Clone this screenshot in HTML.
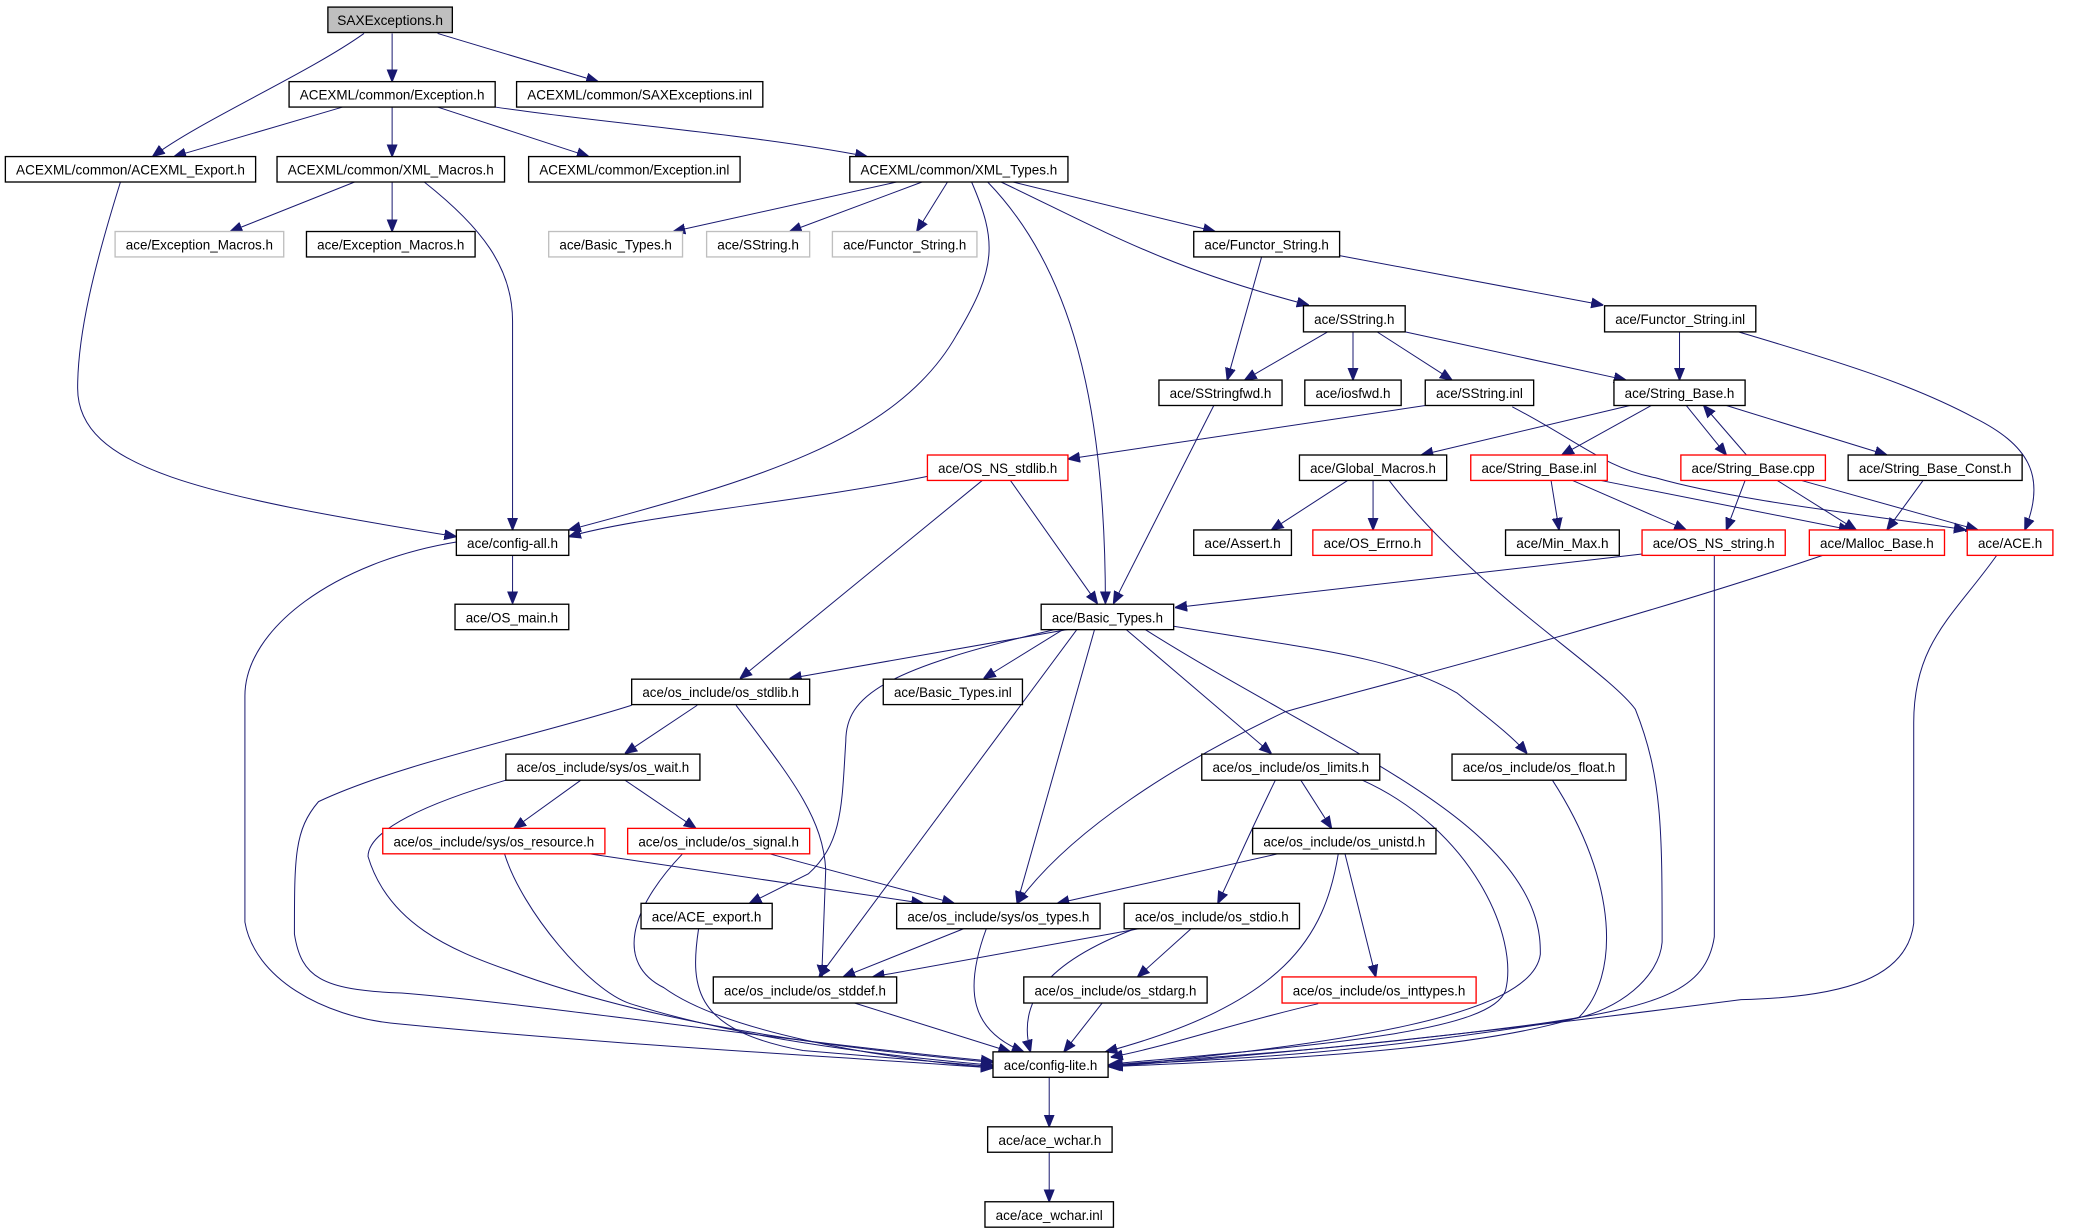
<!DOCTYPE html>
<html><head><meta charset="utf-8"><style>
html,body{margin:0;padding:0;background:#fff;}
svg{display:block;}
text{font-family:"Liberation Sans",sans-serif;font-size:10px;fill:#000;}
.n{fill:#fff;stroke:#000;stroke-width:1;}
.r{fill:#fff;stroke:#ff0000;stroke-width:1;}
.g{fill:#fff;stroke:#bfbfbf;stroke-width:1;}
.e{fill:none;stroke:#191970;stroke-width:0.75;marker-end:url(#a);}
</style></head><body>
<svg width="2077" height="1232" viewBox="0 0 1552 920.6" xmlns="http://www.w3.org/2000/svg">
<defs><marker id="a" viewBox="0 0 10 10" refX="10" refY="5" markerWidth="9" markerHeight="9" markerUnits="userSpaceOnUse" orient="auto"><path d="M0,1 L10,5 L0,9 z" fill="#191970" stroke="#191970"/></marker></defs>
<g>
<path class="e" d="M272,25 C230,55 150,90 114,117"/>
<path class="e" d="M293,25 L293,61"/>
<path class="e" d="M327,25 L447,61"/>
<path class="e" d="M256,80 L130,117"/>
<path class="e" d="M293,80 L293,117"/>
<path class="e" d="M327,80 L440,117"/>
<path class="e" d="M370,80 C450,92 560,100 648,117"/>
<path class="e" d="M265,136 L172,173"/>
<path class="e" d="M293,136 L293,173"/>
<path class="e" d="M317,136 C360,170 383,200 383,240 L383,396"/>
<path class="e" d="M90,136 C70,200 58,250 58,290 C58,350 150,370 341,401"/>
<path class="e" d="M670,136 L503,173"/>
<path class="e" d="M689,136 L590,173"/>
<path class="e" d="M708,136 L685,173"/>
<path class="e" d="M726,136 C745,180 745,200 715,250 C670,330 560,360 425,396"/>
<path class="e" d="M738,136 C800,200 826,300 826,451"/>
<path class="e" d="M757,136 L908,173"/>
<path class="e" d="M748,136 C820,170 870,200 978,228"/>
<path class="e" d="M943,191 L917,284"/>
<path class="e" d="M1001,191 L1198,228"/>
<path class="e" d="M992,248 L930,284"/>
<path class="e" d="M1011,248 L1011,284"/>
<path class="e" d="M1029,248 L1085,284"/>
<path class="e" d="M1050,248 L1215,284"/>
<path class="e" d="M1255,248 L1255,284"/>
<path class="e" d="M1299,248 C1380,272 1430,288 1475,312 C1515,332 1530,355 1513,396"/>
<path class="e" d="M907,303 L832,451"/>
<path class="e" d="M1065,303 L798,343"/>
<path class="e" d="M1130,304 C1180,330 1200,350 1237,357 C1300,375 1400,385 1469,396"/>
<path class="e" d="M1218,303 L1062,340"/>
<path class="e" d="M1234,303 L1167,340"/>
<path class="e" d="M1260,303 L1290,340"/>
<path class="e" d="M1305,340 L1273,303"/>
<path class="e" d="M1290,303 L1410,340"/>
<path class="e" d="M693,356 C600,375 480,385 425,401"/>
<path class="e" d="M734,359 L553,507"/>
<path class="e" d="M755,359 L820,451"/>
<path class="e" d="M1007,359 L950,396"/>
<path class="e" d="M1026,359 L1026,396"/>
<path class="e" d="M1038,359 C1100,440 1200,500 1222,530 C1242,580 1242,620 1242,704 C1240,730 1210,755 1173,762 C1000,790 900,792 828,796"/>
<path class="e" d="M1159,359 L1165,396"/>
<path class="e" d="M1175,359 L1260,396"/>
<path class="e" d="M1196,359 L1383,396"/>
<path class="e" d="M1304,359 L1290,396"/>
<path class="e" d="M1328,359 L1387,396"/>
<path class="e" d="M1346,359 L1478,396"/>
<path class="e" d="M1437,359 L1410,396"/>
<path class="e" d="M1227,414 L878,454"/>
<path class="e" d="M1281,415 L1281,700 C1275,740 1240,752 1150,765 C1000,785 900,790 828,796"/>
<path class="e" d="M1362,415 C1200,470 1000,520 960,532 C880,570 800,620 760,675"/>
<path class="e" d="M1492,415 C1460,460 1430,480 1430,540 L1430,690 C1425,730 1380,745 1301,747 C1200,760 1000,785 828,797"/>
<path class="e" d="M383,415 L383,451"/>
<path class="e" d="M341,405 C250,420 183,470 183,520 L183,689 C190,730 240,760 297,765 C450,780 600,788 742,798"/>
<path class="e" d="M800,470 L590,507"/>
<path class="e" d="M795,470 L735,507"/>
<path class="e" d="M790,470 C660,500 632,520 632,554 C629,600 630,630 604,653 L560,675"/>
<path class="e" d="M805,470 L612,730"/>
<path class="e" d="M818,470 L760,675"/>
<path class="e" d="M841,470 L950,563"/>
<path class="e" d="M855,470 C950,530 1060,580 1110,630 C1151,670 1151,700 1151,713 C1145,760 1000,780 828,797"/>
<path class="e" d="M877,468 C980,485 1040,490 1089,518 C1110,535 1130,550 1141,563"/>
<path class="e" d="M472,527 C400,550 300,570 238,599 C220,620 220,640 220,698 C225,730 240,740 300,742 C400,750 600,780 742,793"/>
<path class="e" d="M521,527 L467,563"/>
<path class="e" d="M550,527 C590,580 615,610 617,650 L614,730"/>
<path class="e" d="M434,583 L384,619"/>
<path class="e" d="M467,583 L520,619"/>
<path class="e" d="M378,583 C320,600 275,620 275,640 C290,690 337,710 380,725 C500,770 650,785 742,794"/>
<path class="e" d="M440,638 L690,675"/>
<path class="e" d="M377,638 C390,680 440,740 471,750 C550,775 650,788 742,796"/>
<path class="e" d="M575,638 L713,675"/>
<path class="e" d="M510,638 C470,680 460,720 496,738 C540,770 650,790 742,798"/>
<path class="e" d="M522,694 C515,740 520,770 600,785 L742,797"/>
<path class="e" d="M720,694 L630,730"/>
<path class="e" d="M737,694 C720,740 725,770 765,786"/>
<path class="e" d="M637,749 L755,786"/>
<path class="e" d="M851,694 L652,730"/>
<path class="e" d="M848,694 C780,720 760,750 770,786"/>
<path class="e" d="M890,694 L850,730"/>
<path class="e" d="M824,749 L795,786"/>
<path class="e" d="M972,583 L995,619"/>
<path class="e" d="M953,583 C930,630 922,650 910,675"/>
<path class="e" d="M1018,583 C1100,620 1135,700 1125,740 C1115,770 1000,780 830,795"/>
<path class="e" d="M955,638 L790,675"/>
<path class="e" d="M1000,638 C990,700 960,750 826,786"/>
<path class="e" d="M1005,638 L1028,730"/>
<path class="e" d="M985,750 C920,765 880,780 830,790"/>
<path class="e" d="M1160,583 C1210,660 1210,730 1180,760 C1100,785 950,792 830,797"/>
<path class="e" d="M784,805 L784,842"/>
<path class="e" d="M784,861 L784,898"/>
</g>
<g>
<rect x="245" y="5.3" width="93" height="19" fill="#bfbfbf" stroke="#000" stroke-width="1"/><text x="291.5" y="18.5" text-anchor="middle" textLength="79" lengthAdjust="spacingAndGlyphs">SAXExceptions.h</text>
<rect class="n" x="216" y="61" width="154" height="19"/><text x="293" y="74.5" text-anchor="middle" textLength="138" lengthAdjust="spacingAndGlyphs">ACEXML/common/Exception.h</text>
<rect class="n" x="386" y="61" width="184" height="19"/><text x="478" y="74.5" text-anchor="middle" textLength="168" lengthAdjust="spacingAndGlyphs">ACEXML/common/SAXExceptions.inl</text>
<rect class="n" x="4" y="117" width="187" height="19"/><text x="97.5" y="130.5" text-anchor="middle" textLength="171" lengthAdjust="spacingAndGlyphs">ACEXML/common/ACEXML_Export.h</text>
<rect class="n" x="207" y="117" width="170" height="19"/><text x="292" y="130.5" text-anchor="middle" textLength="154" lengthAdjust="spacingAndGlyphs">ACEXML/common/XML_Macros.h</text>
<rect class="n" x="395" y="117" width="158" height="19"/><text x="474" y="130.5" text-anchor="middle" textLength="142" lengthAdjust="spacingAndGlyphs">ACEXML/common/Exception.inl</text>
<rect class="n" x="635" y="117" width="163" height="19"/><text x="716.5" y="130.5" text-anchor="middle" textLength="147" lengthAdjust="spacingAndGlyphs">ACEXML/common/XML_Types.h</text>
<rect class="g" x="86" y="173" width="126" height="19"/><text x="149" y="186.5" text-anchor="middle" textLength="110" lengthAdjust="spacingAndGlyphs">ace/Exception_Macros.h</text>
<rect class="n" x="229" y="173" width="126" height="19"/><text x="292" y="186.5" text-anchor="middle" textLength="110" lengthAdjust="spacingAndGlyphs">ace/Exception_Macros.h</text>
<rect class="g" x="410" y="173" width="100" height="19"/><text x="460" y="186.5" text-anchor="middle" textLength="84" lengthAdjust="spacingAndGlyphs">ace/Basic_Types.h</text>
<rect class="g" x="528" y="173" width="77" height="19"/><text x="566.5" y="186.5" text-anchor="middle" textLength="61" lengthAdjust="spacingAndGlyphs">ace/SString.h</text>
<rect class="g" x="622" y="173" width="108" height="19"/><text x="676" y="186.5" text-anchor="middle" textLength="92" lengthAdjust="spacingAndGlyphs">ace/Functor_String.h</text>
<rect class="n" x="892" y="173" width="109" height="19"/><text x="946.5" y="186.5" text-anchor="middle" textLength="93" lengthAdjust="spacingAndGlyphs">ace/Functor_String.h</text>
<rect class="n" x="974" y="228.5" width="76" height="19.5"/><text x="1012" y="242" text-anchor="middle" textLength="60" lengthAdjust="spacingAndGlyphs">ace/SString.h</text>
<rect class="n" x="1199" y="228.5" width="113" height="19.5"/><text x="1255.5" y="242" text-anchor="middle" textLength="97" lengthAdjust="spacingAndGlyphs">ace/Functor_String.inl</text>
<rect class="n" x="866" y="284" width="92" height="19"/><text x="912" y="297.5" text-anchor="middle" textLength="76" lengthAdjust="spacingAndGlyphs">ace/SStringfwd.h</text>
<rect class="n" x="975" y="284" width="72" height="19"/><text x="1011" y="297.5" text-anchor="middle" textLength="56" lengthAdjust="spacingAndGlyphs">ace/iosfwd.h</text>
<rect class="n" x="1065" y="284" width="81" height="19"/><text x="1105.5" y="297.5" text-anchor="middle" textLength="65" lengthAdjust="spacingAndGlyphs">ace/SString.inl</text>
<rect class="n" x="1206" y="284" width="98" height="19"/><text x="1255" y="297.5" text-anchor="middle" textLength="82" lengthAdjust="spacingAndGlyphs">ace/String_Base.h</text>
<rect class="r" x="693" y="340" width="105" height="19"/><text x="745.5" y="353.5" text-anchor="middle" textLength="89" lengthAdjust="spacingAndGlyphs">ace/OS_NS_stdlib.h</text>
<rect class="n" x="971" y="340" width="110" height="19"/><text x="1026" y="353.5" text-anchor="middle" textLength="94" lengthAdjust="spacingAndGlyphs">ace/Global_Macros.h</text>
<rect class="r" x="1099" y="340" width="102" height="19"/><text x="1150" y="353.5" text-anchor="middle" textLength="86" lengthAdjust="spacingAndGlyphs">ace/String_Base.inl</text>
<rect class="r" x="1256" y="340" width="108" height="19"/><text x="1310" y="353.5" text-anchor="middle" textLength="92" lengthAdjust="spacingAndGlyphs">ace/String_Base.cpp</text>
<rect class="n" x="1381" y="340" width="130" height="19"/><text x="1446" y="353.5" text-anchor="middle" textLength="114" lengthAdjust="spacingAndGlyphs">ace/String_Base_Const.h</text>
<rect class="n" x="341" y="396" width="84" height="19"/><text x="383" y="409.5" text-anchor="middle" textLength="68" lengthAdjust="spacingAndGlyphs">ace/config-all.h</text>
<rect class="n" x="892" y="396" width="73" height="19"/><text x="928.5" y="409.5" text-anchor="middle" textLength="57" lengthAdjust="spacingAndGlyphs">ace/Assert.h</text>
<rect class="r" x="981" y="396" width="89" height="19"/><text x="1025.5" y="409.5" text-anchor="middle" textLength="73" lengthAdjust="spacingAndGlyphs">ace/OS_Errno.h</text>
<rect class="n" x="1125" y="396" width="85" height="19"/><text x="1167.5" y="409.5" text-anchor="middle" textLength="69" lengthAdjust="spacingAndGlyphs">ace/Min_Max.h</text>
<rect class="r" x="1227" y="396" width="107" height="19"/><text x="1280.5" y="409.5" text-anchor="middle" textLength="91" lengthAdjust="spacingAndGlyphs">ace/OS_NS_string.h</text>
<rect class="r" x="1352" y="396" width="101" height="19"/><text x="1402.5" y="409.5" text-anchor="middle" textLength="85" lengthAdjust="spacingAndGlyphs">ace/Malloc_Base.h</text>
<rect class="r" x="1470" y="396" width="64" height="19"/><text x="1502" y="409.5" text-anchor="middle" textLength="48" lengthAdjust="spacingAndGlyphs">ace/ACE.h</text>
<rect class="n" x="340" y="451.5" width="85" height="19"/><text x="382.5" y="465" text-anchor="middle" textLength="69" lengthAdjust="spacingAndGlyphs">ace/OS_main.h</text>
<rect class="n" x="778" y="451.5" width="99" height="19"/><text x="827.5" y="465" text-anchor="middle" textLength="83" lengthAdjust="spacingAndGlyphs">ace/Basic_Types.h</text>
<rect class="n" x="472" y="507.5" width="133" height="19"/><text x="538.5" y="521" text-anchor="middle" textLength="117" lengthAdjust="spacingAndGlyphs">ace/os_include/os_stdlib.h</text>
<rect class="n" x="660" y="507.5" width="104" height="19"/><text x="712" y="521" text-anchor="middle" textLength="88" lengthAdjust="spacingAndGlyphs">ace/Basic_Types.inl</text>
<rect class="n" x="378" y="563.5" width="145" height="19.5"/><text x="450.5" y="577" text-anchor="middle" textLength="129" lengthAdjust="spacingAndGlyphs">ace/os_include/sys/os_wait.h</text>
<rect class="n" x="898" y="563.5" width="133" height="19.5"/><text x="964.5" y="577" text-anchor="middle" textLength="117" lengthAdjust="spacingAndGlyphs">ace/os_include/os_limits.h</text>
<rect class="n" x="1085" y="563.5" width="130" height="19.5"/><text x="1150" y="577" text-anchor="middle" textLength="114" lengthAdjust="spacingAndGlyphs">ace/os_include/os_float.h</text>
<rect class="r" x="286" y="619" width="166" height="19"/><text x="369" y="632.5" text-anchor="middle" textLength="150" lengthAdjust="spacingAndGlyphs">ace/os_include/sys/os_resource.h</text>
<rect class="r" x="469" y="619" width="136" height="19"/><text x="537" y="632.5" text-anchor="middle" textLength="120" lengthAdjust="spacingAndGlyphs">ace/os_include/os_signal.h</text>
<rect class="n" x="936" y="619" width="137" height="19"/><text x="1004.5" y="632.5" text-anchor="middle" textLength="121" lengthAdjust="spacingAndGlyphs">ace/os_include/os_unistd.h</text>
<rect class="n" x="479" y="675" width="98" height="19"/><text x="528" y="688.5" text-anchor="middle" textLength="82" lengthAdjust="spacingAndGlyphs">ace/ACE_export.h</text>
<rect class="n" x="670" y="675" width="152" height="19"/><text x="746" y="688.5" text-anchor="middle" textLength="136" lengthAdjust="spacingAndGlyphs">ace/os_include/sys/os_types.h</text>
<rect class="n" x="840" y="675" width="131" height="19"/><text x="905.5" y="688.5" text-anchor="middle" textLength="115" lengthAdjust="spacingAndGlyphs">ace/os_include/os_stdio.h</text>
<rect class="n" x="533" y="730" width="137" height="19.5"/><text x="601.5" y="744" text-anchor="middle" textLength="121" lengthAdjust="spacingAndGlyphs">ace/os_include/os_stddef.h</text>
<rect class="n" x="765" y="730" width="137" height="19.5"/><text x="833.5" y="744" text-anchor="middle" textLength="121" lengthAdjust="spacingAndGlyphs">ace/os_include/os_stdarg.h</text>
<rect class="r" x="958" y="730" width="145" height="19.5"/><text x="1030.5" y="744" text-anchor="middle" textLength="129" lengthAdjust="spacingAndGlyphs">ace/os_include/os_inttypes.h</text>
<rect class="n" x="742" y="786" width="86" height="19"/><text x="785" y="799.5" text-anchor="middle" textLength="70" lengthAdjust="spacingAndGlyphs">ace/config-lite.h</text>
<rect class="n" x="738" y="842" width="93" height="19"/><text x="784.5" y="855.5" text-anchor="middle" textLength="77" lengthAdjust="spacingAndGlyphs">ace/ace_wchar.h</text>
<rect class="n" x="736" y="898" width="96" height="19"/><text x="784" y="911.5" text-anchor="middle" textLength="80" lengthAdjust="spacingAndGlyphs">ace/ace_wchar.inl</text>
</g>
</svg>
</body></html>
